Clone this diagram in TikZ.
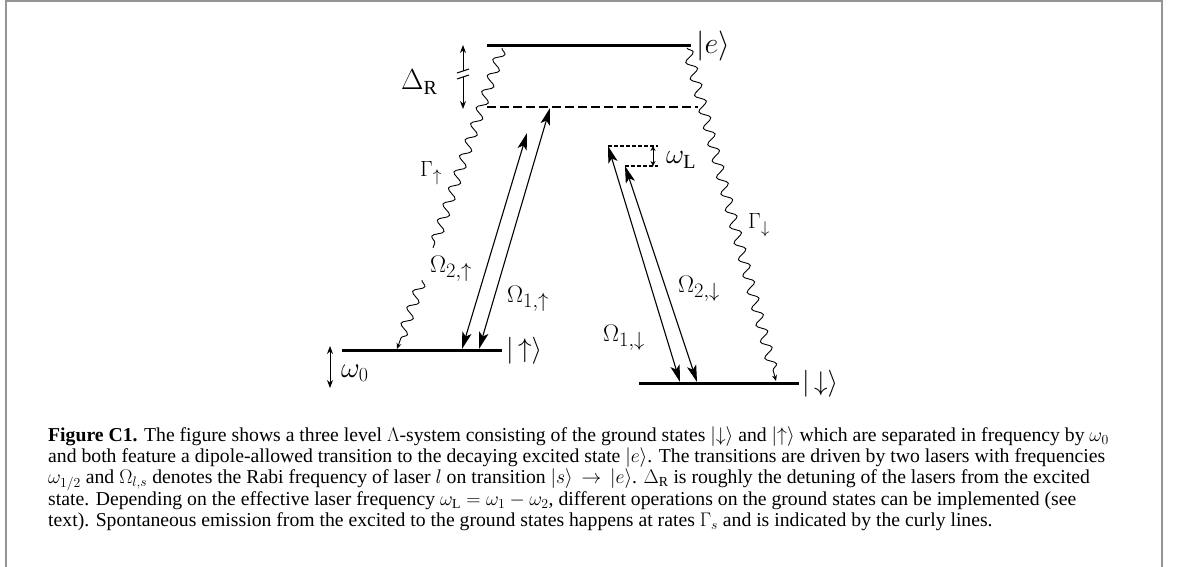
\RequirePackage{fix-cm}
\documentclass[tikz,border=0pt]{standalone}
\usepackage{fontspec}
\setmainfont{Liberation Serif}
\DeclareMathSizes{22}{22}{17}{12}
\DeclareMathSizes{24}{24}{20.5}{15}
\DeclareMathSizes{27}{27}{20}{15}
\DeclareMathSizes{28}{28}{20}{15}
\DeclareMathSizes{29}{29}{20}{15}
\DeclareMathSizes{30}{30}{21}{15}
\usetikzlibrary{arrows.meta,decorations.pathmorphing}
\tikzset{
  level/.style={line width=3pt},
  virtlevel/.style={line width=2.6pt, dash pattern=on 9pt off 4pt},
  smalldash/.style={line width=1.4pt, dash pattern=on 4pt off 2pt},
  laser/.style={line width=1.1pt, {Stealth[length=17pt,width=9.5pt,inset=4pt]}-{Stealth[length=17pt,width=9.5pt,inset=4pt]}},
  gap/.style={line width=1pt, {Stealth[length=8pt,width=6pt]}-{Stealth[length=8pt,width=6pt]}},
  decay/.style={line width=0.9pt, decorate, decoration={snake, amplitude=5pt, segment length=17pt, post length=6pt}, -{Stealth[length=6pt,width=5pt]}},
  decayplain/.style={line width=0.9pt, decorate, decoration={snake, amplitude=5pt, segment length=17pt}},
  lab/.style={inner sep=0pt, anchor=base west},
  omlab/.style={lab, font=\fontsize{24}{24}\selectfont},
  gamlab/.style={lab, font=\fontsize{22}{22}\selectfont},
  frame/.style={draw=black!42, line width=2pt}
}
\begin{document}
\begin{tikzpicture}[x=1pt,y=-1pt]
\useasboundingbox (0,0) rectangle (1179,567);
% frame
\draw[frame] (6,567) -- (6,1) -- (1162,1) -- (1162,567);

% levels
\coordinate (eL) at (487,46);  \coordinate (eR) at (691,46);
\coordinate (vL) at (487,107); \coordinate (vR) at (698,107);
\coordinate (uL) at (342,350); \coordinate (uR) at (502,350);
\coordinate (dL) at (639,383); \coordinate (dR) at (799,383);
\draw[level] (eL) -- (eR);
\draw[virtlevel] (vL) -- (vR);
\draw[level] (uL) -- (uR);
\draw[level] (dL) -- (dR);

\node[lab, font=\fontsize{30}{30}\selectfont] (ket-e) at (696,54) {$|e\rangle$};
\node[lab, font=\fontsize{27}{27}\selectfont] (ket-u) at (506,357) {$|\,{\uparrow}\rangle$};
\node[lab, font=\fontsize{27}{27}\selectfont] (ket-d) at (802,390) {$|\,{\downarrow}\rangle$};

% Delta_R
\coordinate (DRt) at (463,45); \coordinate (DRb) at (463,109);
\draw[gap] (DRt) -- (DRb);
\fill[white] (459,71) rectangle (467,77);
\draw[line width=1pt] (457,73) -- (469,69);
\draw[line width=1pt] (457,79) -- (469,75);
\node[lab, font=\fontsize{29}{29}\selectfont] (DR) at (401,90) {$\Delta_{\mathrm{R}}$};

% omega_0
\coordinate (w0t) at (330,346); \coordinate (w0b) at (330,388);
\draw[gap] (w0t) -- (w0b);
\node[lab, font=\fontsize{29}{29}\selectfont] (w0) at (341,377) {$\omega_0$};

% omega_L box
\coordinate (LtL) at (608,146); \coordinate (LtR) at (658,146);
\coordinate (LbL) at (625,166); \coordinate (LbR) at (658,166);
\draw[smalldash] (LtL) -- (LtR);
\draw[smalldash] (LbL) -- (LbR);
\coordinate (wLt) at (653,146); \coordinate (wLb) at (653,166);
\draw[line width=0.9pt, {Stealth[length=5pt,width=5pt]}-{Stealth[length=5pt,width=5pt]}] (wLt) -- (wLb);
\node[lab, font=\fontsize{28}{28}\selectfont] (wL) at (666,164) {$\omega_{\mathrm{L}}$};

% laser arrows
\coordinate (a2ub) at (462,349); \coordinate (a2ut) at (527,133);
\coordinate (a1ub) at (479,349); \coordinate (a1ut) at (550,108);
\coordinate (a1dt) at (608,146); \coordinate (a1db) at (680,382);
\coordinate (a2dt) at (625,166); \coordinate (a2db) at (697,382);
\draw[laser] (a2ub) -- (a2ut);
\draw[laser] (a1ub) -- (a1ut);
\draw[laser] (a1dt) -- (a1db);
\draw[laser] (a2dt) -- (a2db);

% decay
\coordinate (gu0) at (502,48);
\coordinate (gu1) at (433,248);
\coordinate (gu2) at (422,280);
\coordinate (gu3) at (397,349);
\draw[decayplain] (gu0) -- (gu1);
\draw[decay] (gu2) -- (gu3);
\coordinate (gd0) at (687,48);
\coordinate (gd1) at (776,381);
\draw[decay] (gd0) -- (gd1);

% labels
\node[gamlab] (Gu) at (420,177) {$\Gamma_{\uparrow}$};
\node[gamlab] (Gd) at (748,229) {$\Gamma_{\downarrow}$};
\node[omlab] (O2u) at (430,272) {$\Omega_{2,\uparrow}$};
\node[omlab] (O1u) at (507,302) {$\Omega_{1,\uparrow}$};
\node[omlab] (O1d) at (603,341) {$\Omega_{1,\downarrow}$};
\node[omlab] (O2d) at (678,292) {$\Omega_{2,\downarrow}$};

% caption
\node[anchor=north west, inner sep=0pt, align=left, font=\fontsize{19.7}{21.4}\selectfont] (cap) at (48,427) {%
\textbf{Figure C1.} The figure shows a three level $\Lambda$-system consisting of the ground states \smash{$|{\downarrow}\rangle$} and \smash{$|{\uparrow}\rangle$} which are separated in frequency by $\omega_0$\\
and both feature a dipole-allowed transition to the decaying excited state \smash{$|e\rangle$}. The transitions are driven by two lasers with frequencies\\
$\omega_{1/2}$ and $\Omega_{l,s}$ denotes the Rabi frequency of laser $l$ on transition \smash{$|s\rangle\,\rightarrow\,|e\rangle$}. $\Delta_{\mathrm{R}}$ is roughly the detuning of the lasers from the excited\\
state. Depending on the effective laser frequency $\omega_{\mathrm{L}}=\omega_1-\omega_2$, different operations on the ground states can be implemented (see\\
text). Spontaneous emission from the excited to the ground states happens at rates $\Gamma_s$ and is indicated by the curly lines.};
\end{tikzpicture}
\end{document}
